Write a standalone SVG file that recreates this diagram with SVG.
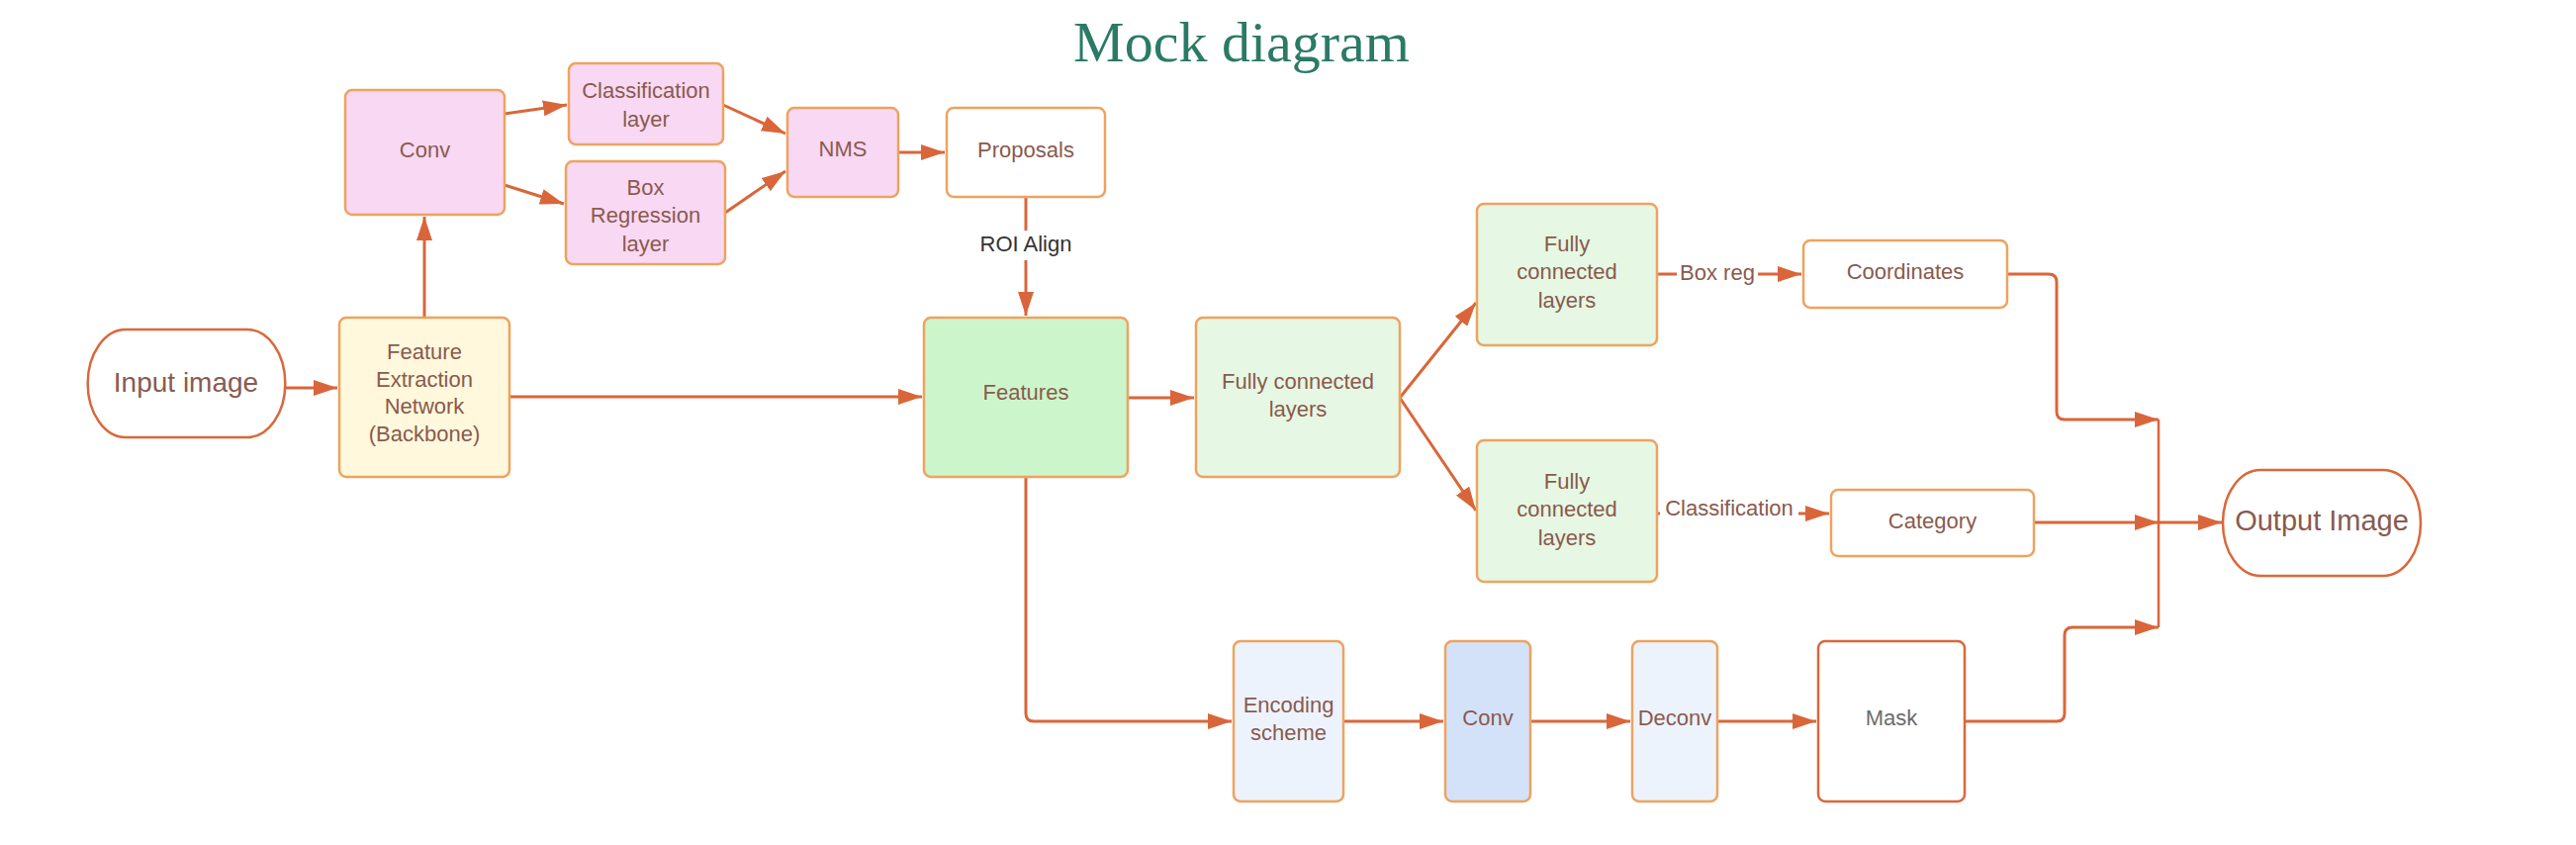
<svg xmlns="http://www.w3.org/2000/svg" width="2604" height="854" viewBox="0 0 2604 854">
<defs>
<marker id="arr" markerUnits="userSpaceOnUse" markerWidth="24" markerHeight="16" refX="24" refY="8" orient="auto"><path d="M0,0 L24,8 L0,16 z" fill="#d9663a"/></marker>
<style>
.box{stroke:#eda35f;stroke-width:2.5}
.term{fill:#fff;stroke:#d9683b;stroke-width:2.5}
.t{font-family:"Liberation Sans",Arial,sans-serif;font-size:22px;fill:#8a5a4e;text-anchor:middle}
.tl{font-family:"Liberation Sans",Arial,sans-serif;font-size:28px;fill:#8a5a4e;text-anchor:middle}
.lab{font-family:"Liberation Sans",Arial,sans-serif;font-size:22px;fill:#8a5a4e;text-anchor:middle}
.c{fill:none;stroke:#d9663a;stroke-width:3}
.pink{fill:#f9d8f3}.yel{fill:#fff8dc}.grn{fill:#cdf5cb}.lgrn{fill:#e6f7e3}.lblu{fill:#edf3fd}.blu{fill:#d3e2f9}.wht{fill:#fff}
</style>
</defs>
<rect width="2604" height="854" fill="#fff"/>
<text x="1255" y="62" font-family="Liberation Serif,Times New Roman,serif" font-size="58" fill="#2b7a66" text-anchor="middle">Mock diagram</text>

<g id="connectors">
<path class="c" d="M288 392 H341" marker-end="url(#arr)"/>
<path class="c" d="M515 401 H932" marker-end="url(#arr)"/>
<path class="c" d="M429 321 V219" marker-end="url(#arr)"/>
<path class="c" d="M510 115 L573 106" marker-end="url(#arr)"/>
<path class="c" d="M510 187 L570 206" marker-end="url(#arr)"/>
<path class="c" d="M731 106 L794 135" marker-end="url(#arr)"/>
<path class="c" d="M733 215 L794 173" marker-end="url(#arr)"/>
<path class="c" d="M908 154 H955" marker-end="url(#arr)"/>
<path class="c" d="M1037 199 V319" marker-end="url(#arr)"/>
<rect x="985" y="233" width="104" height="30" fill="#fff"/>
<text x="1037" y="254" font-family="Liberation Sans,Arial,sans-serif" font-size="22" fill="#333" text-anchor="middle">ROI Align</text>
<path class="c" d="M1140 402 H1207" marker-end="url(#arr)"/>
<path class="c" d="M1415 402 L1492 306" marker-end="url(#arr)"/>
<path class="c" d="M1415 402 L1492 516" marker-end="url(#arr)"/>
<path class="c" d="M1675 277 H1821" marker-end="url(#arr)"/>
<rect x="1695" y="262" width="82" height="30" fill="#fff"/>
<text class="lab" x="1736" y="283">Box reg</text>
<path class="c" d="M1675 519 H1849" marker-end="url(#arr)"/>
<rect x="1678" y="500" width="140" height="30" fill="#fff"/>
<text class="lab" x="1748" y="521">Classification</text>
<path class="c" d="M2029 277 H2071 Q2079 277 2079 285 V416 Q2079 424 2087 424 H2182" marker-end="url(#arr)"/>
<path class="c" d="M2056 528 H2182" marker-end="url(#arr)"/>
<path class="c" d="M2182 528 H2246" marker-end="url(#arr)"/>
<path class="c" d="M2182 424 V634" style="stroke-width:2.5"/>
<path class="c" d="M1986 729 H2079 Q2087 729 2087 721 V642 Q2087 634 2095 634 H2182" marker-end="url(#arr)"/>
<path class="c" d="M1037 482 V721 Q1037 729 1045 729 H1245" marker-end="url(#arr)"/>
<path class="c" d="M1358 729 H1459" marker-end="url(#arr)"/>
<path class="c" d="M1547 729 H1648" marker-end="url(#arr)"/>
<path class="c" d="M1736 729 H1836" marker-end="url(#arr)"/>
</g>

<g id="input"><path class="term" d="M127 333 H250 A38 54 0 0 1 250 442 H127 A38 54 0 0 1 127 333 Z"/><text class="tl" x="188" y="396">Input image</text></g>
<g id="fen"><rect class="box yel" x="343" y="321" width="172" height="161" rx="7"/><text class="t" x="429" y="363">Feature</text><text class="t" x="429" y="391">Extraction</text><text class="t" x="429" y="418">Network</text><text class="t" x="429" y="446">(Backbone)</text></g>
<g id="conv1"><rect class="box pink" x="349" y="91" width="161" height="126" rx="7"/><text class="t" x="429.5" y="159">Conv</text></g>
<g id="cls"><rect class="box pink" x="575" y="64" width="156" height="82" rx="7"/><text class="t" x="653" y="99">Classification</text><text class="t" x="653" y="128">layer</text></g>
<g id="boxreg"><rect class="box pink" x="572" y="163" width="161" height="104" rx="7"/><text class="t" x="652.5" y="197">Box</text><text class="t" x="652.5" y="225">Regression</text><text class="t" x="652.5" y="254">layer</text></g>
<g id="nms"><rect class="box pink" x="796" y="109" width="112" height="90" rx="7"/><text class="t" x="852" y="158">NMS</text></g>
<g id="proposals"><rect class="box wht" x="957" y="109" width="160" height="90" rx="7"/><text class="t" x="1037" y="159">Proposals</text></g>
<g id="features"><rect class="box grn" x="934" y="321" width="206" height="161" rx="7"/><text class="t" x="1037" y="404">Features</text></g>
<g id="fc1"><rect class="box lgrn" x="1209" y="321" width="206" height="161" rx="7"/><text class="t" x="1312" y="393">Fully connected</text><text class="t" x="1312" y="421">layers</text></g>
<g id="fc2"><rect class="box lgrn" x="1493" y="206" width="182" height="143" rx="7"/><text class="t" x="1584" y="254">Fully</text><text class="t" x="1584" y="282">connected</text><text class="t" x="1584" y="311">layers</text></g>
<g id="fc3"><rect class="box lgrn" x="1493" y="445" width="182" height="143" rx="7"/><text class="t" x="1584" y="494">Fully</text><text class="t" x="1584" y="522">connected</text><text class="t" x="1584" y="551">layers</text></g>
<g id="coords"><rect class="box wht" x="1823" y="243" width="206" height="68" rx="7"/><text class="t" x="1926" y="282">Coordinates</text></g>
<g id="category"><rect class="box wht" x="1851" y="495" width="205" height="67" rx="7"/><text class="t" x="1953.5" y="534">Category</text></g>
<g id="output"><path class="term" d="M2285 475 H2409 A38 53.5 0 0 1 2409 582 H2285 A38 53.5 0 0 1 2285 475 Z"/><text class="tl" x="2347" y="536" style="font-size:29px">Output Image</text></g>
<g id="enc"><rect class="box lblu" x="1247" y="648" width="111" height="162" rx="7"/><text class="t" x="1302.5" y="720">Encoding</text><text class="t" x="1302.5" y="748">scheme</text></g>
<g id="conv2"><rect class="box blu" x="1461" y="648" width="86" height="162" rx="7"/><text class="t" x="1504" y="733">Conv</text></g>
<g id="deconv"><rect class="box lblu" x="1650" y="648" width="86" height="162" rx="7"/><text class="t" x="1693" y="733">Deconv</text></g>
<g id="mask"><rect class="term" x="1838" y="648" width="148" height="162" rx="7"/><text class="t" x="1912" y="733" style="fill:#6b6b6b">Mask</text></g>
</svg>
